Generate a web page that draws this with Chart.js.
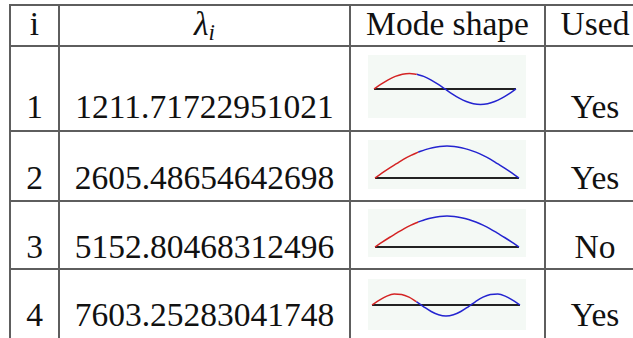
<!DOCTYPE html>
<html>
<head>
<meta charset="utf-8">
<script src="https://cdn.jsdelivr.net/npm/chart.js@4.4.0/dist/chart.umd.min.js"></script>
<style>
  html, body { margin: 0; padding: 0; background: #fff; }
  #page { position: relative; width: 633px; height: 338px; overflow: hidden;
          font-family: "Liberation Serif", "Times New Roman", serif; color: #111; }
  .hl, .vl { position: absolute; background: #5e5e5e; }
  .hl { height: 2px; left: 9px; right: 0; }
  .vl { width: 2px; top: 4px; bottom: 0; }
  .txt { position: absolute; font-size: 33.5px; line-height: 33.5px; white-space: nowrap;
         transform: translateX(-50%); }
  .txt sub { font-size: 23px; vertical-align: -5px; line-height: 0; }
  canvas { position: absolute; background: #f4f9f5; }
</style>
</head>
<body>
<div id="page"></div>
<script>
// table contents
const rowIndex = ['1', '2', '3', '4'];
const eigenValues = ['1211.71722951021', '2605.48654642698', '5152.80468312496', '7603.25283041748'];
const usedFlags = ['Yes', 'Yes', 'No', 'Yes'];

// mode shape samples, x from 0 to 1 step 0.05 (read from the thumbnails)
const shapeX = [0, 0.05, 0.1, 0.15, 0.2, 0.25, 0.3, 0.35, 0.4, 0.45, 0.5,
                0.55, 0.6, 0.65, 0.7, 0.75, 0.8, 0.85, 0.9, 0.95, 1];
const mode1 = [0, 0.31, 0.59, 0.81, 0.95, 1, 0.95, 0.81, 0.59, 0.31, 0,
               -0.31, -0.59, -0.81, -0.95, -1, -0.95, -0.81, -0.59, -0.31, 0];
const mode2 = [0, 0.16, 0.31, 0.45, 0.59, 0.71, 0.81, 0.89, 0.95, 0.99, 1,
               0.99, 0.95, 0.89, 0.81, 0.71, 0.59, 0.45, 0.31, 0.16, 0];
const mode3 = [0, 0.16, 0.31, 0.45, 0.59, 0.71, 0.81, 0.89, 0.95, 0.99, 1,
               0.99, 0.95, 0.89, 0.81, 0.71, 0.59, 0.45, 0.31, 0.16, 0];
const mode4 = [0, 0.45, 0.81, 0.99, 0.95, 0.71, 0.31, -0.16, -0.59, -0.89, -1,
               -0.89, -0.59, -0.16, 0.31, 0.71, 0.95, 0.99, 0.81, 0.45, 0];
const modeShapes = [mode1, mode2, mode3, mode4];
const redUntil = 0.3;   // first part of each shape drawn in red

// layout
const colLines = [10, 59, 350, 545, 645];
const rowLines = [5, 46, 131, 201, 269];
const headerBase = 35;
const rowBase = [118, 189, 258, 326];
const thumbs = [
  { left: 368, top: 55,  w: 158, h: 63, padL: 6, padR: 10, yMin: -1.87, yMax: 2.19 },
  { left: 368, top: 140, w: 158, h: 49, padL: 7, padR: 7,  yMin: -0.34, yMax: 1.19 },
  { left: 368, top: 209, w: 158, h: 48, padL: 7, padR: 7,  yMin: -0.32, yMax: 1.23 },
  { left: 368, top: 279, w: 158, h: 51, padL: 4, padR: 6,  yMin: -2.27, yMax: 2.36 }
];

const page = document.getElementById('page');

rowLines.forEach(y => {
  const d = document.createElement('div');
  d.className = 'hl';
  d.style.top = (y - 1) + 'px';
  page.appendChild(d);
});
colLines.forEach(x => {
  const d = document.createElement('div');
  d.className = 'vl';
  d.style.left = (x - 1) + 'px';
  page.appendChild(d);
});

function addText(html, col, base) {
  const d = document.createElement('div');
  d.className = 'txt';
  d.innerHTML = html;
  d.style.left = ((colLines[col] + colLines[col + 1]) / 2) + 'px';
  d.style.top = (base - 28) + 'px';
  page.appendChild(d);
}

addText('i', 0, headerBase);
addText('<i>λ</i><sub><i>i</i></sub>', 1, headerBase);
addText('Mode shape', 2, headerBase);
addText('Used', 3, headerBase);

rowIndex.forEach((r, i) => {
  addText(r, 0, rowBase[i]);
  addText(eigenValues[i], 1, rowBase[i]);
  addText(usedFlags[i], 3, rowBase[i]);
});

modeShapes.forEach((shape, i) => {
  const t = thumbs[i];
  const cv = document.createElement('canvas');
  cv.width = t.w;
  cv.height = t.h;
  cv.style.left = t.left + 'px';
  cv.style.top = t.top + 'px';
  page.appendChild(cv);

  const pts = shapeX.map((x, k) => ({ x: x, y: shape[k] }));
  const redPts = pts.filter(p => p.x <= redUntil);
  const bluePts = pts.filter(p => p.x >= redUntil);

  new Chart(cv.getContext('2d'), {
    type: 'line',
    data: {
      datasets: [
        {
          data: [{ x: 0, y: 0 }, { x: 1, y: 0 }],
          borderColor: '#222',
          borderWidth: 2,
          pointRadius: 0,
          order: 3
        },
        {
          data: redPts,
          borderColor: '#d42424',
          borderWidth: 1.5,
          pointRadius: 0,
          cubicInterpolationMode: 'monotone',
          order: 1
        },
        {
          data: bluePts,
          borderColor: '#2424d0',
          borderWidth: 1.5,
          pointRadius: 0,
          cubicInterpolationMode: 'monotone',
          order: 2
        }
      ]
    },
    options: {
      responsive: false,
      animation: false,
      clip: false,
      layout: { padding: { left: t.padL, right: t.padR, top: 0, bottom: 0 } },
      scales: {
        x: { type: 'linear', min: 0, max: 1, display: false },
        y: { min: t.yMin, max: t.yMax, display: false }
      },
      plugins: { legend: { display: false }, tooltip: { enabled: false } }
    }
  });
});
</script>
</body>
</html>
